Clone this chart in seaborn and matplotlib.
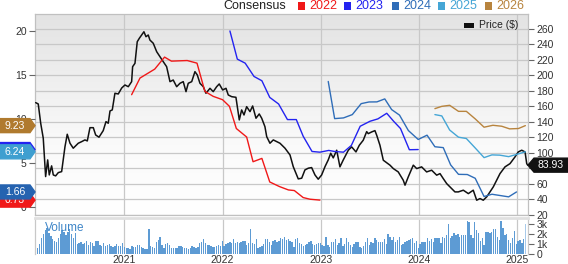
import numpy as np
import pandas as pd
import matplotlib
matplotlib.use("Agg")
import matplotlib.pyplot as plt
import seaborn as sns
from matplotlib.patches import Polygon, Rectangle
from matplotlib.colors import LinearSegmentedColormap
from matplotlib.ticker import FuncFormatter

# ---------------- data ----------------
price_t = [2020.099,2020.125,2020.150,2020.176,2020.200,2020.221,2020.237,2020.261,2020.278,2020.302,
           2020.329,2020.363,2020.397,2020.420,2020.448,2020.481,2020.532,2020.567,2020.600,2020.624,
           2020.651,2020.685,2020.709,2020.743,2020.786,2020.814,2020.837,2020.855,2020.878,2020.905,
           2020.939,2020.974,2021.007,2021.041,2021.075,2021.085,2021.109,2021.132,2021.153,2021.177,
           2021.200,2021.221,2021.244,2021.261,2021.295,2021.330,2021.363,2021.397,2021.431,2021.465,
           2021.498,2021.533,2021.567,2021.600,2021.628,2021.651,2021.686,2021.719,2021.743,2021.770,
           2021.804,2021.831,2021.872,2021.905,2021.940,2021.966,2022.001,2022.035,2022.058,2022.093,
           2022.136,2022.170,2022.194,2022.218,2022.245,2022.279,2022.306,2022.340,2022.373,2022.398,
           2022.431,2022.449,2022.482,2022.516,2022.584,2022.635,2022.686,2022.719,2022.770,2022.805,
           2022.838,2022.872,2022.906,2022.940,2022.973,2023.008,2023.042,2023.075,2023.100,2023.126,
           2023.161,2023.194,2023.228,2023.279,2023.313,2023.357,2023.391,2023.431,2023.466,2023.482,
           2023.517,2023.550,2023.568,2023.601,2023.635,2023.703,2023.737,2023.787,2023.838,2023.856,
           2023.889,2023.940,2023.975,2024.025,2024.076,2024.127,2024.178,2024.212,2024.245,2024.280,
           2024.313,2024.364,2024.398,2024.449,2024.500,2024.550,2024.585,2024.619,2024.652,2024.687,
           2024.720,2024.754,2024.788,2024.822,2024.873,2024.924,2024.975,2025.008,2025.043,2025.077,
           2025.094,2025.104]
price_v = [164.6,162.9,138.0,118.7,69.2,90.7,71.3,83.0,71.3,70.1,
           74.3,75.6,107.8,123.8,112.2,105.8,112.2,114.3,116.5,115.2,
           132.3,132.3,122.9,120.0,128.5,140.1,138.0,153.9,155.2,176.7,
           175.8,183.5,187.4,185.2,191.7,211.0,215.4,243.2,247.6,251.9,
           256.1,249.7,251.9,245.4,241.2,230.3,223.9,217.4,211.0,191.7,
           193.8,185.2,189.6,191.7,178.8,189.6,191.7,204.6,200.3,189.6,
           185.2,176.7,183.1,178.8,185.2,188.7,181.0,183.1,174.5,172.3,
           171.5,142.3,155.2,148.7,159.4,153.0,160.3,144.5,150.0,144.5,
           133.6,120.7,112.2,116.5,112.2,105.8,97.1,82.0,66.2,67.1,
           77.8,80.0,80.8,71.3,65.8,71.3,82.0,90.7,99.3,93.3,
           103.2,81.7,90.7,103.2,107.5,101.0,109.6,116.1,127.2,124.6,
           126.8,128.5,122.5,109.6,90.3,83.9,79.5,75.2,64.5,58.1,
           68.8,83.9,79.5,81.7,75.2,77.4,71.0,73.0,66.6,60.1,
           55.9,49.4,49.4,51.6,47.2,51.6,38.7,40.8,38.7,43.0,
           49.4,55.9,64.5,73.0,81.7,85.9,94.6,101.0,103.2,101.0,
           85.9,83.93]

years = ["2022", "2023", "2024", "2025", "2026"]
colors = ["#f01818", "#2323f0", "#2f6db8", "#45a6d6", "#b8843e"]
tag_colors = ["#f01818", "#2323f0", "#2563b0", "#3f9fd0", "#b07a2e"]

c22_t = [2021.075,2021.16,2021.31,2021.41,2021.48,2021.64,2021.74,2021.82,2021.905,2022.0,2022.07,
         2022.14,2022.245,2022.31,2022.40,2022.48,2022.58,2022.67,2022.73,2022.82,2022.89,2022.99]
c22_v = [12.76,14.66,15.68,17.05,16.59,16.66,16.36,13.14,12.57,12.19,11.43,
         8.9,7.93,5.11,5.49,2.8,2.27,1.89,1.82,1.02,0.83,0.73]
c23_t = [2022.075,2022.15,2022.23,2022.32,2022.40,2022.48,2022.57,2022.66,2022.75,2022.82,2022.91,2022.99,
         2023.08,2023.14,2023.23,2023.31,2023.40,2023.50,2023.58,2023.67,2023.74,2023.81,2023.90,2023.99]
c23_v = [20.03,16.82,16.36,14.84,14.35,12.45,11.7,9.92,9.92,8.02,6.28,6.2,
         6.4,6.28,6.2,6.97,9.16,9.73,10.0,10.64,9.73,8.9,6.48,6.5]
c24_t = [2023.075,2023.14,2023.23,2023.32,2023.41,2023.49,2023.57,2023.65,2023.72,2023.80,2023.89,2023.99,
         2024.08,2024.16,2024.245,2024.32,2024.40,2024.49,2024.57,2024.66,2024.74,2024.91,2024.99]
c24_v = [14.27,10.03,10.11,10.49,11.74,11.93,11.94,12.28,11.06,10.43,8.67,7.65,
         8.14,6.82,6.72,4.75,3.67,3.65,3.22,1.14,1.4,1.1,1.66]
c25_t = [2024.16,2024.23,2024.31,2024.40,2024.48,2024.57,2024.66,2024.74,2024.82,2024.91,2024.99,2025.08]
c25_v = [10.49,10.34,8.73,7.91,7.76,6.68,5.58,5.89,5.86,5.69,5.94,6.24]
c26_t = [2024.16,2024.23,2024.31,2024.40,2024.48,2024.57,2024.66,2024.75,2024.84,2024.92,2025.01,2025.08]
c26_v = [11.17,11.43,11.55,10.86,10.86,10.0,9.05,9.27,9.16,8.86,8.9,9.23]
cons_t = [c22_t, c23_t, c24_t, c25_t, c26_t]
cons_v = [c22_v, c23_v, c24_v, c25_v, c26_v]

# weekly volume (thousands), starting Feb 2020
vol_start = 2020.10
volume = [0.9,0.6,1.0,1.6,2.0,2.4,2.6,2.1,
          1.8,1.5,1.3,1.2,1.6,2.0,2.4,2.2,1.9,2.2,2.5,2.0,1.6,
          2.1,1.0,1.1,1.2,1.0,1.1,1.3,0.9,1.2,1.1,0.8,1.3,1.3,
          0.9,0.8,1.1,0.8,0.9,1.0,0.8,0.7,0.8,1.0,0.8,0.8,1.1,
          0.7,0.6,0.6,0.5,0.8,0.7,0.7,0.9,0.9,0.7,0.6,0.5,0.5,2.5,0.8,0.7,0.6,1.2,1.4,1.7,0.9,0.6,1.0,1.1,0.9,0.6,
          0.6,0.6,0.6,0.8,0.8,0.7,0.6,0.6,0.5,0.6,0.8,0.7,0.6,0.7,1.1,1.2,1.5,1.1,0.9,0.9,0.8,0.7,0.7,0.8,0.9,0.8,
          1.3,0.8,1.0,1.1,1.2,1.1,1.5,1.1,1.2,1.1,1.2,1.3,1.3,0.9,1.1,2.5,1.1,1.0,1.5,0.6,0.7,0.8,1.0,1.5,1.5,1.2,
          0.9,1.3,1.4,1.2,1.3,1.6,1.5,1.7,1.4,1.5,1.3,1.2,0.7,1.5,1.6,1.1,1.0,0.8,0.9,1.0,1.2,1.3,1.0,0.9,1.0,1.1,
          1.1,0.9,0.8,1.7,0.9,0.7,1.2,1.2,1.5,0.9,1.1,1.6,0.8,1.0,1.6,1.2,0.9,0.7,1.0,1.2,1.2,0.7,0.6,0.8,1.2,1.6,
          0.9,1.2,1.1,1.6,1.4,1.2,1.2,1.2,1.5,1.0,2.0,1.7,1.4,1.7,1.2,1.4,1.7,0.9,1.0,1.2,1.3,1.4,1.5,1.6,1.1,1.3,
          0.6,1.0,1.2,1.2,1.2,1.6,1.3,1.5,1.2,1.6,1.6,1.6,1.1,1.7,1.6,1.9,3.0,1.6,1.8,2.1,1.9,2.0,1.7,1.9,1.9,1.9,
          3.3,3.2,1.9,1.6,3.2,2.4,2.1,1.3,1.6,0.9,2.2,2.2,2.1,2.2,2.5,2.5,1.7,1.4,3.3,2.6,1.9,2.0,1.4,1.1,1.6,2.3,
          1.0,1.3,1.4,1.1,1.5,3.0]

last_price = 83.93

# ---------------- figure ----------------
sns.set_style("white")
plt.rcParams["font.family"] = ["Liberation Sans", "DejaVu Sans"]
W, H = 568, 264
fig = plt.figure(figsize=(W / 100, H / 100), dpi=100)

def fx(px):
    return px / W

def fy(py):
    return 1 - py / H

main_rect = [fx(35), fy(215), fx(528) - fx(35), fy(14) - fy(215)]
vol_rect = [fx(35), fy(254), fx(528) - fx(35), fy(218) - fy(254)]

# gradient background
bg = fig.add_axes(main_rect, zorder=0)
cmap = LinearSegmentedColormap.from_list("g", [(0, "#ffffff"), (0.35, "#fafafa"), (1, "#e3e3e3")])
bg.imshow(np.linspace(0, 1, 256).reshape(-1, 1), cmap=cmap, aspect="auto",
          extent=[0, 1, 0, 1], origin="lower")
bg.set_axis_off()

xlim = (2020.092, 2025.107)
grid_c = "#c8c8c8"
tick_c = "#333333"

# price axis (right)
ax = fig.add_axes(main_rect, zorder=1)
ax.set_facecolor("none")
pdf = pd.DataFrame({"t": price_t, "p": price_v})
sns.lineplot(data=pdf, x="t", y="p", ax=ax, color="#111111", lw=1.1, sort=False, zorder=5)
ax.set_xlabel("")
ax.set_ylabel("")

# EPS axis (left)
ax2 = ax.twinx()
ax2.set_zorder(2)
ax2.set_facecolor("none")
for yr, t, v, c in zip(years, cons_t, cons_v, colors):
    d = pd.DataFrame({"t": t, "v": v})
    sns.lineplot(data=d, x="t", y="v", ax=ax2, color=c, lw=1.0, sort=False)
ax2.set_xlabel("")
ax2.set_ylabel("")

# configure price axis after twinx
ax.set_xlim(*xlim)
ax.set_ylim(19.6, 279)
ax.yaxis.tick_right()
ax.set_yticks(range(20, 261, 20))
ax.set_xticks([2021, 2022, 2023, 2024, 2025])
ax.set_xticklabels([])
ax.grid(True, color=grid_c, lw=0.9)
ax.tick_params(axis="y", left=False, right=True, labelleft=False, labelright=True,
               length=4, color="#666666", labelsize=7.5, labelcolor=tick_c, pad=2)
ax.tick_params(axis="x", bottom=False, length=0)
for s in ax.spines.values():
    s.set_color("#c0c0c0")
    s.set_linewidth(0.9)

ax2.set_xlim(*xlim)
ax2.set_ylim(-0.97, 21.97)
ax2.yaxis.tick_left()
ax2.set_yticks([0, 5, 10, 15, 20])
ax2.tick_params(axis="y", left=True, right=False, labelleft=True, labelright=False,
                length=4, color="#666666", labelsize=7.5, labelcolor=tick_c, pad=2)
for s in ax2.spines.values():
    s.set_visible(False)
ax2.grid(False)

# volume panel
axv = fig.add_axes(vol_rect, zorder=1)
vt = vol_start + np.arange(len(volume)) * 7 / 365.25
vcols = ["#5d9bd4"] * (len(volume) - 1) + ["#a8caea"]
axv.bar(vt, volume, width=5.2 / 365.25, color=vcols, lw=0)
axv.set_xlim(*xlim)
axv.set_ylim(0, 3.6)
axv.yaxis.tick_right()
axv.set_yticks([0, 1, 2, 3])
axv.yaxis.set_major_formatter(FuncFormatter(lambda v, p: "0" if v == 0 else f"{int(v)}k"))
axv.set_xticks([2021, 2022, 2023, 2024, 2025])
axv.set_xticklabels(["2021", "2022", "2023", "2024", "2025"])
axv.tick_params(axis="y", right=True, length=4, color="#666666", labelsize=7.5,
                labelcolor=tick_c, pad=2)
axv.tick_params(axis="x", bottom=False, length=0, labelsize=7.5, labelcolor=tick_c, pad=1)
axv.grid(True, axis="x", color=grid_c, lw=0.9)
axv.grid(False, axis="y")
for k, s in axv.spines.items():
    s.set_color("#c8c8c8")
    s.set_linewidth(0.9)
axv.spines["bottom"].set_visible(False)
axv.spines["top"].set_color("#e0e0e0")
axv.spines["top"].set_linewidth(2)
axv.text(0.02, 0.72, "Volume", transform=axv.transAxes, color="#3f86c8", fontsize=8.5,
         va="center", ha="left")

# ---------------- tags ----------------
fig.canvas.draw()
inv = fig.transFigure.inverted()

def tag_left(val, color, text, z):
    yd = ax2.transData.transform((xlim[0], val))[1]
    yc = inv.transform((0, yd))[1]
    h = 7 / H
    x0, x1, xt = 0, fx(30), fx(35)
    poly = Polygon([(x0, yc - h), (x1, yc - h), (xt, yc), (x1, yc + h), (x0, yc + h)],
                   closed=True, transform=fig.transFigure, color=color, zorder=z)
    fig.add_artist(poly)
    fig.text(fx(15), yc, text, color="white", fontsize=7.5, ha="center", va="center",
             zorder=z + 0.5)

for i in range(len(years)):
    v = cons_v[i][-1]
    tag_left(v, tag_colors[i], f"{v:.2f}", 10 + i)

yd = ax.transData.transform((xlim[1], last_price))[1]
yc = inv.transform((0, yd))[1]
h = 7 / H
poly = Polygon([(fx(528), yc), (fx(534), yc - h), (1, yc - h), (1, yc + h), (fx(534), yc + h)],
               closed=True, transform=fig.transFigure, color="#111111", zorder=20)
fig.add_artist(poly)
fig.text(fx(551), yc, f"{last_price:.2f}", color="white", fontsize=7.5,
         ha="center", va="center", zorder=21)

# ---------------- top legend ----------------
fig.text(fx(223), fy(6), "Consensus", fontsize=9, color="#222222", ha="left", va="center")
sq_x = [298, 344, 392, 438, 485]
for x, yr, c in zip(sq_x, years, colors):
    fig.add_artist(Rectangle((fx(x), fy(10)), 7 / W, 8 / H, transform=fig.transFigure,
                             color=c, lw=0))
    fig.text(fx(x + 11), fy(6), yr, fontsize=9, color=c, ha="left", va="center")

# price legend inside plot
fig.add_artist(Rectangle((fx(464), fy(28)), 10 / W, 5 / H, transform=fig.transFigure,
                         color="#111111", lw=0, zorder=22))
fig.text(fx(479), fy(25.5), "Price ($)", fontsize=7.5, color="#222222", ha="left",
         va="center", zorder=22)

fig.savefig("out.png", dpi=100)
